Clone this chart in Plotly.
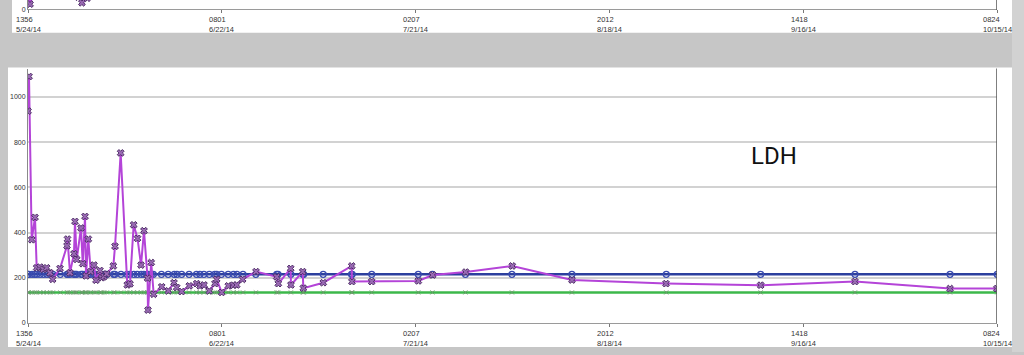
import plotly.graph_objects as go
import pandas as pd

W, H = 1024, 355


def py(p):
    return 1 - p / H


# ---------------- data ----------------
T0 = pd.Timestamp("2014-05-24 13:56")
tick_times = ["2014-05-24 13:56", "2014-06-22 08:01", "2014-07-21 02:07",
              "2014-08-18 20:12", "2014-09-16 14:18", "2014-10-15 08:24"]
tick_labels = ["1356<br>5/24/14", "0801<br>6/22/14", "0207<br>7/21/14",
               "2012<br>8/18/14", "1418<br>9/16/14", "0824<br>10/15/14"]
y_ticks = [0, 200, 400, 600, 800, 1000]

# LDH results: days after first draw, value (U/L)
ldh_days = [0.00, 0.15, 0.55, 1.04, 1.29, 1.78, 2.27, 2.77, 3.26, 3.66,
            4.75, 5.79, 5.86, 6.23, 6.82, 6.97, 7.23, 7.86, 8.12, 8.46,
            8.61, 8.95, 9.30, 9.79, 10.09, 10.68, 10.93, 11.28, 11.68, 12.66,
            12.91, 13.75, 14.73, 15.13, 15.68, 16.25, 16.77, 17.21, 17.74, 17.80,
            18.28, 18.65, 19.84, 20.82, 21.66, 22.06, 22.80, 23.93, 25.03, 25.52,
            26.11, 26.90, 27.74, 28.00, 28.74, 29.72, 30.46, 30.96, 31.85, 33.83,
            36.90, 37.14, 38.98, 39.01, 40.76, 40.85, 43.81, 48.03, 48.06, 50.99,
            57.91, 60.04, 64.94, 71.85, 80.71, 94.66, 108.71, 122.70, 136.80, 143.75]
ldh_values = [937, 1090, 368, 467, 244, 247, 237, 244, 222, 193,
              241, 341, 371, 222, 306, 449, 281, 420, 262, 471,
              208, 371, 227, 256, 189, 232, 200, 205, 217, 252,
              339, 752, 168, 173, 434, 374, 256, 408, 198, 57,
              267, 127, 160, 142, 178, 157, 139, 164, 174, 164,
              168, 142, 174, 193, 135, 164, 167, 168, 193, 227,
              204, 174, 241, 168, 227, 154, 178, 252, 183, 183,
              186, 212, 225, 252, 190, 174, 167, 183, 152, 152]
upper_ref = 215
lower_ref = 135

# upper (partly hidden) panel series
top_days = [0.00, 0.30, 0.70, 7.45, 8.00, 8.80]
top_values = [160, 55, 140, 130, 70, 120]

# --------------------------------------
ldh_t = T0 + pd.to_timedelta(ldh_days, unit="D")
ref_days = sorted(set(round(d, 1) for d in ldh_days))
ref_t = T0 + pd.to_timedelta(ref_days, unit="D")
top_t = T0 + pd.to_timedelta(top_days, unit="D")

FONT = "Liberation Sans"
x_dom = [28 / W, 997 / W]
y_top = (325.7 - 70) / 0.228

fig = go.Figure()

fig.add_trace(go.Scatter(
    x=ref_t, y=[lower_ref] * len(ref_t), mode="lines+markers",
    line=dict(color="#3cb84a", width=2.5),
    marker=dict(symbol="x-thin", size=4, line=dict(color="#6a9a6a", width=1)),
    hoverinfo="skip", showlegend=False))
fig.add_trace(go.Scatter(
    x=ref_t, y=[upper_ref] * len(ref_t), mode="lines+markers",
    line=dict(color="#2c3f9e", width=2.5),
    marker=dict(symbol="circle-open", size=6, color="#3a4cb0", line=dict(width=1.3)),
    hoverinfo="skip", showlegend=False))
fig.add_trace(go.Scatter(
    x=ldh_t, y=ldh_values, mode="lines+markers",
    line=dict(color="#b444d8", width=2),
    marker=dict(symbol="x", size=6, color="#9a6ab4", line=dict(color="#4e2e66", width=1)),
    hoverinfo="skip", showlegend=False))

fig.add_trace(go.Scatter(
    x=top_t, y=top_values, mode="lines+markers", xaxis="x2", yaxis="y2",
    line=dict(color="#b444d8", width=2),
    marker=dict(symbol="x", size=6, color="#9a6ab4", line=dict(color="#4e2e66", width=1)),
    hoverinfo="skip", showlegend=False))

shapes = [
    dict(type="rect", xref="paper", yref="paper", x0=8 / W, x1=1012 / W,
         y0=py(350), y1=py(68), fillcolor="white", line=dict(width=0), layer="below"),
    dict(type="rect", xref="paper", yref="paper", x0=12 / W, x1=1012 / W,
         y0=py(33), y1=1, fillcolor="white", line=dict(width=0), layer="below"),
    dict(type="rect", xref="paper", yref="paper", x0=1012 / W, x1=1,
         y0=0, y1=1, fillcolor="#d2d2d2", line=dict(width=0), layer="below"),
    dict(type="line", xref="x", yref="paper", x0=tick_times[-1], x1=tick_times[-1],
         y0=py(326), y1=py(69), line=dict(color="#555555", width=1.5)),
    dict(type="line", xref="x2", yref="paper", x0=tick_times[-1], x1=tick_times[-1],
         y0=py(10), y1=1, line=dict(color="#555555", width=1.5)),
]

annotations = []
for t, lab in zip(tick_times, tick_labels):
    for xr, ytop in (("x", 330), ("x2", 13)):
        annotations.append(dict(
            x=t, xref=xr, y=py(ytop), yref="paper", text=lab, showarrow=False,
            xanchor="center", yanchor="top", align="left",
            font=dict(family=FONT, size=7.5, color="#333333")))
annotations.append(dict(
    x=774 / W, xref="paper", y=py(157), yref="paper", text="LDH", showarrow=False,
    xanchor="center", yanchor="middle",
    font=dict(family="Roboto", size=24, color="#111111")))

fig.update_layout(
    width=W, height=H, margin=dict(l=0, r=0, t=0, b=0),
    paper_bgcolor="#c6c6c6", plot_bgcolor="white",
    xaxis=dict(type="date", domain=x_dom, range=[tick_times[0], tick_times[-1]],
               tickvals=tick_times, showticklabels=False, ticks="outside", ticklen=3,
               tickcolor="#777777", showline=True, linecolor="#9a9a9a", linewidth=1,
               showgrid=False, zeroline=False, anchor="y"),
    yaxis=dict(domain=[py(325.7), py(70)], range=[0, y_top], tickvals=y_ticks,
               showgrid=True, gridcolor="#d2d2d2", gridwidth=1.5, zeroline=False,
               showline=True, linecolor="#8a8a8a", linewidth=1, ticks="",
               tickfont=dict(family=FONT, size=7, color="#333333"), anchor="x"),
    xaxis2=dict(type="date", domain=x_dom, range=[tick_times[0], tick_times[-1]],
                tickvals=tick_times, showticklabels=False, ticks="outside", ticklen=3,
                tickcolor="#777777", showline=True, linecolor="#9a9a9a", linewidth=1,
                showgrid=False, zeroline=False, anchor="y2"),
    yaxis2=dict(domain=[py(9.3), 1], range=[0, 100], tickvals=[0],
                showgrid=False, zeroline=False, showline=True, linecolor="#8a8a8a",
                ticks="", tickfont=dict(family=FONT, size=7, color="#333333"), anchor="x2"),
    shapes=shapes, annotations=annotations,
)

fig.write_html("out.html")
